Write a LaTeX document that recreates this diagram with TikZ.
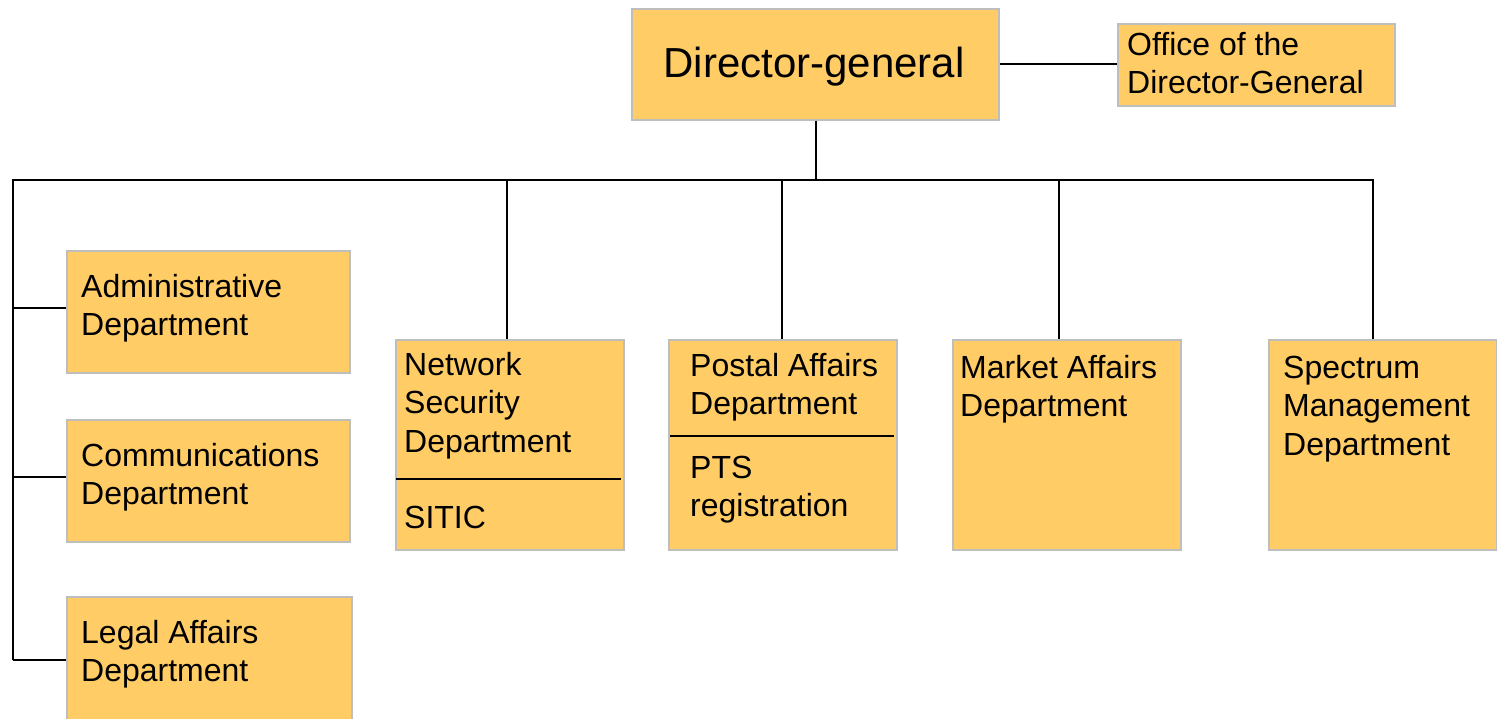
\documentclass[tikz,border=0pt]{standalone}
\usepackage{fontspec}
\setmainfont{Liberation Sans}
\definecolor{boxfill}{RGB}{255,204,102}
\definecolor{boxline}{RGB}{190,190,190}
\begin{document}
\begin{tikzpicture}[x=1pt,y=-1pt,
  box/.style={draw=boxline,line width=1.5pt,fill=boxfill,inner sep=0pt,anchor=north west},
  txt/.style={anchor=base west,inner sep=0pt,font=\fontsize{32}{38}\selectfont},
  conn/.style={draw=black,line width=2pt}]
\useasboundingbox (0,0) rectangle (1497,718);
% boxes
\node[box,minimum width=367pt,minimum height=111pt] (dg) at (631,8) {};
\node[box,minimum width=277pt,minimum height=82pt] (office) at (1117,23) {};
\node[box,minimum width=283pt,minimum height=122pt] (adm) at (66,250) {};
\node[box,minimum width=283pt,minimum height=122pt] (com) at (66,419) {};
\node[box,minimum width=285pt,minimum height=128pt] (leg) at (66,596) {};
\node[box,minimum width=228pt,minimum height=210pt] (net) at (395,339) {};
\node[box,minimum width=228pt,minimum height=210pt] (pos) at (668,339) {};
\node[box,minimum width=228pt,minimum height=210pt] (mkt) at (952,339) {};
\node[box,minimum width=228pt,minimum height=210pt] (spe) at (1268,339) {};
% texts
\node[anchor=base,inner sep=0pt,font=\fontsize{42}{50}\selectfont] (dgt) at (814,77) {Director-general};
\node[txt] (o1) at (1127,55) {Office of the};
\node[txt] (o2) at (1127,93) {Director-General};
\node[txt] (a1) at (81,297) {Administrative};
\node[txt] (a2) at (81,335) {Department};
\node[txt] (c1) at (81,466) {Communications};
\node[txt] (c2) at (81,504) {Department};
\node[txt] (l1) at (81,643) {Legal Affairs};
\node[txt] (l2) at (81,681) {Department};
\node[txt] (n1) at (404,375) {Network};
\node[txt] (n2) at (404,413) {Security};
\node[txt] (n3) at (404,452) {Department};
\node[txt] (n4) at (404,528) {SITIC};
\node[txt] (p1) at (690,376) {Postal Affairs};
\node[txt] (p2) at (690,414) {Department};
\node[txt] (p3) at (690,478) {PTS};
\node[txt] (p4) at (690,516) {registration};
\node[txt] (m1) at (960,378) {Market Affairs};
\node[txt] (m2) at (960,416) {Department};
\node[txt] (s1) at (1283,378) {Spectrum};
\node[txt] (s2) at (1283,416) {Management};
\node[txt] (s3) at (1283,455) {Department};
% dividers
\draw[conn,line width=1.5pt] (396,479) -- (621,479);
\draw[conn,line width=1.5pt] (670,436) -- (894,436);
% connectors
\coordinate (busL) at (13,180);
\coordinate (busR) at (1373,180);
\coordinate (bdg) at (816,180);
\coordinate (bnet) at (507,180);
\coordinate (bpos) at (782,180);
\coordinate (bmkt) at (1059,180);
\coordinate (ja) at (13,308);
\coordinate (jc) at (13,477);
\coordinate (jl) at (13,660);
\draw[conn] (dg.east) -- (dg.east -| office.west);
\draw[conn] (bdg |- dg.south) -- (bdg);
\draw[conn] (jl) -- (busL) -- (busR) -- (busR |- spe.north);
\draw[conn] (bnet) -- (bnet |- net.north);
\draw[conn] (bpos) -- (bpos |- pos.north);
\draw[conn] (bmkt) -- (bmkt |- mkt.north);
\draw[conn] (ja) -- (ja -| adm.west);
\draw[conn] (jc) -- (jc -| com.west);
\draw[conn] (jl) -- (jl -| leg.west);
\end{tikzpicture}
\end{document}
